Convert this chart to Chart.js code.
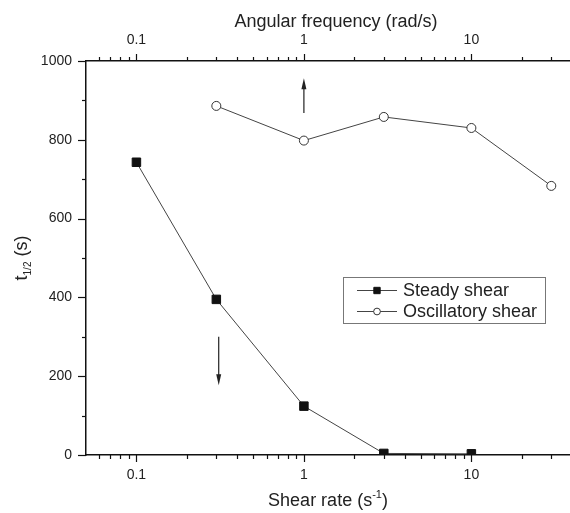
<!DOCTYPE html>
<html>
<head>
<meta charset="utf-8">
<script src="https://cdn.jsdelivr.net/npm/chart.js@4"></script>
<style>
  html, body { margin: 0; padding: 0; background: #fff; }
  #wrap { width: 570px; height: 513px; }
</style>
</head>
<body>
<div id="wrap"><canvas id="chart" width="570" height="513"></canvas></div>
<script>
// ========== Data ==========
const steadyRate = [0.1, 0.3, 1, 3, 10];
const steadyHalfTime = [743, 395, 124, 4, 3];

const oscFreq = [0.3, 1, 3, 10, 30];
const oscHalfTime = [886, 798, 858, 830, 683];

const xMin = 0.05;
const xMax = 38.8;
const xMajorTicks = [0.1, 1, 10];
const xMinorTicks = [0.06, 0.07, 0.08, 0.09, 0.2, 0.3, 0.4, 0.5, 0.6, 0.7, 0.8, 0.9,
  2, 3, 4, 5, 6, 7, 8, 9, 20, 30];
const yMajorTicks = [0, 200, 400, 600, 800, 1000];
const yMinorTicks = [100, 300, 500, 700, 900];

// arrows telling which axis each curve belongs to (data coords)
const arrowX = [0.31, 1];
const arrowFrom = [300, 868];
const arrowTo = [177, 956];

const FONT = '"Liberation Sans", Arial, sans-serif';
const INK = '#222';

// ========== Extra drawing: ticks, arrows, titles, legend ==========
const decorPlugin = {
  id: 'decor',
  afterDraw(chart) {
    const ctx = chart.ctx;
    const { x, x2, y } = chart.scales;
    const area = chart.chartArea;
    ctx.save();

    // tick marks (outward)
    ctx.strokeStyle = '#111';
    ctx.lineWidth = 1.2;
    const seg = (x1, y1, x2_, y2) => {
      ctx.beginPath(); ctx.moveTo(x1, y1); ctx.lineTo(x2_, y2); ctx.stroke();
    };
    [[xMajorTicks, 7], [xMinorTicks, 4]].forEach(([vals, len]) => {
      vals.forEach(v => {
        const px = Math.round(x.getPixelForValue(v)) + 0.5;
        seg(px, area.bottom, px, area.bottom + len);
        const pt = Math.round(x2.getPixelForValue(v)) + 0.5;
        seg(pt, area.top, pt, area.top - len);
      });
    });
    [[yMajorTicks, 8], [yMinorTicks, 4]].forEach(([vals, len]) => {
      vals.forEach(v => {
        const py = Math.round(y.getPixelForValue(v)) + 0.5;
        seg(area.left, py, area.left - len, py);
      });
    });

    // arrows
    ctx.strokeStyle = '#222';
    ctx.fillStyle = '#222';
    ctx.lineWidth = 1.2;
    arrowX.forEach((ax, i) => {
      const px = x.getPixelForValue(ax);
      const y0 = y.getPixelForValue(arrowFrom[i]);
      const y1 = y.getPixelForValue(arrowTo[i]);
      const dir = y1 > y0 ? 1 : -1;
      seg(px, y0, px, y1 - dir * 8);
      ctx.beginPath();
      ctx.moveTo(px, y1);
      ctx.lineTo(px - 2.5, y1 - dir * 11);
      ctx.lineTo(px + 2.5, y1 - dir * 11);
      ctx.closePath();
      ctx.fill();
    });

    // axis titles
    ctx.fillStyle = INK;
    ctx.textBaseline = 'alphabetic';
    ctx.font = '18px ' + FONT;
    ctx.textAlign = 'center';
    ctx.fillText('Angular frequency (rad/s)', (area.left + area.right) / 2 + 8, 27);

    // bottom: Shear rate (s^-1)
    const main = 'Shear rate (s';
    const sup = '-1';
    const close = ')';
    ctx.textAlign = 'left';
    ctx.font = '18px ' + FONT;
    const wMain = ctx.measureText(main).width;
    const wClose = ctx.measureText(close).width;
    ctx.font = '11px ' + FONT;
    const wSup = ctx.measureText(sup).width;
    const bx = (area.left + area.right) / 2 - (wMain + wSup + wClose) / 2;
    const by = 506;
    ctx.font = '18px ' + FONT;
    ctx.fillText(main, bx, by);
    ctx.font = '11px ' + FONT;
    ctx.fillText(sup, bx + wMain, by - 8);
    ctx.font = '18px ' + FONT;
    ctx.fillText(close, bx + wMain + wSup, by);

    // left: t_1/2 (s)
    ctx.save();
    ctx.translate(27, (area.top + area.bottom) / 2);
    ctx.rotate(-Math.PI / 2);
    ctx.font = '18px ' + FONT;
    const wt = ctx.measureText('t').width;
    const wRest = ctx.measureText(' (s)').width;
    ctx.font = '10px ' + FONT;
    const wSub = ctx.measureText('1/2').width;
    const tx = -(wt + wSub + wRest) / 2;
    ctx.font = '18px ' + FONT;
    ctx.fillText('t', tx, 0);
    ctx.font = '10px ' + FONT;
    ctx.fillText('1/2', tx + wt, 4);
    ctx.font = '18px ' + FONT;
    ctx.fillText(' (s)', tx + wt + wSub, 0);
    ctx.restore();

    // legend
    const lg = { left: 343, top: 277, width: 202, height: 46 };
    ctx.strokeStyle = '#777';
    ctx.lineWidth = 1;
    ctx.strokeRect(lg.left + 0.5, lg.top + 0.5, lg.width, lg.height);
    chart.data.datasets.forEach((ds, i) => {
      const cy = lg.top + 13 + i * 21;
      const sx = lg.left + 14;
      ctx.strokeStyle = ds.borderColor;
      ctx.lineWidth = 1;
      seg(sx, cy + 0.5, sx + 40, cy + 0.5);
      ctx.fillStyle = ds.pointBackgroundColor;
      ctx.strokeStyle = ds.pointBorderColor;
      Chart.helpers.drawPoint(ctx, {
        pointStyle: ds.pointStyle,
        radius: ds.pointRadius * 0.75,
        borderWidth: 1
      }, sx + 20, cy + 0.5);
      ctx.fillStyle = INK;
      ctx.font = '18px ' + FONT;
      ctx.textBaseline = 'middle';
      ctx.textAlign = 'left';
      ctx.fillText(ds.label, sx + 46, cy + 1);
    });

    ctx.restore();
  }
};

// ========== Chart ==========
const xAxisCommon = {
  type: 'logarithmic',
  min: xMin,
  max: xMax,
  grid: { display: false, drawTicks: false },
  border: { display: true, color: '#111', width: 1.5 },
  ticks: {
    autoSkip: false,
    maxRotation: 0,
    padding: 12,
    color: INK,
    font: { family: FONT, size: 14 },
    callback: v => String(v)
  },
  afterBuildTicks: scale => {
    scale.ticks = xMajorTicks.map(v => ({ value: v }));
  }
};

new Chart(document.getElementById('chart'), {
  type: 'line',
  data: {
    datasets: [
      {
        label: 'Steady shear',
        xAxisID: 'x',
        data: steadyRate.map((r, i) => ({ x: r, y: steadyHalfTime[i] })),
        borderColor: '#444',
        borderWidth: 1,
        pointStyle: 'rect',
        pointRadius: 6,
        pointBackgroundColor: '#111',
        pointBorderColor: '#111',
        pointBorderWidth: 1
      },
      {
        label: 'Oscillatory shear',
        xAxisID: 'x2',
        data: oscFreq.map((f, i) => ({ x: f, y: oscHalfTime[i] })),
        borderColor: '#444',
        borderWidth: 1,
        pointStyle: 'circle',
        pointRadius: 4.5,
        pointBackgroundColor: '#fff',
        pointBorderColor: '#333',
        pointBorderWidth: 1
      }
    ]
  },
  options: {
    responsive: false,
    animation: false,
    devicePixelRatio: 1,
    layout: { padding: 0, autoPadding: false },
    plugins: {
      legend: { display: false },
      tooltip: { enabled: false }
    },
    scales: {
      x: Object.assign({}, xAxisCommon, {
        position: 'bottom',
        afterFit: scale => { scale.height = 58; }
      }),
      x2: Object.assign({}, xAxisCommon, {
        position: 'top',
        afterFit: scale => { scale.height = 61; }
      }),
      y: {
        type: 'linear',
        position: 'left',
        min: 0,
        max: 1000,
        grid: { display: false, drawTicks: false },
        border: { display: true, color: '#111', width: 1.5 },
        ticks: {
          stepSize: 200,
          padding: 14,
          color: INK,
          font: { family: FONT, size: 14 },
          callback: v => String(v)
        },
        afterFit: scale => { scale.width = 86; }
      }
    }
  },
  plugins: [decorPlugin]
});
</script>
</body>
</html>
